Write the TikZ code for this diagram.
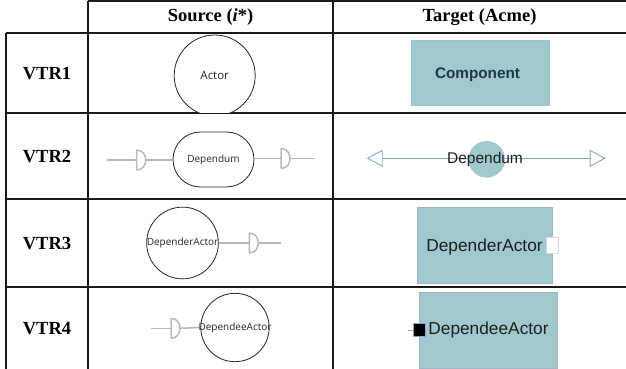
\documentclass[tikz,border=0pt]{standalone}
\usepackage{fontspec}
\setmainfont{Liberation Serif}
\newfontfamily\arialf{Liberation Sans}
\newfontfamily\segoef{Open Sans}
\usetikzlibrary{arrows.meta,backgrounds}
\definecolor{gridc}{HTML}{1A1A1A}
\definecolor{ifcc}{HTML}{B8B8B8}
\definecolor{acmefill}{HTML}{9FC8CF}
\definecolor{acmeedge}{HTML}{A3B5C6}
\definecolor{linkc}{HTML}{8FA3C3}
\definecolor{comptext}{HTML}{1E3A4A}
\begin{document}
\begin{tikzpicture}[x=1pt,y=-1pt,
  tbl/.style={draw=gridc,line width=1.2pt},
  tblthick/.style={draw=gridc,line width=1.7pt},
  hdr/.style={font=\fontsize{18.5}{20}\selectfont\bfseries,inner sep=0pt},
  ifc/.style={draw=ifcc,line width=1.5pt},
  istar/.style={draw=black!85,line width=0.8pt,fill=white,inner sep=0pt,
    text=black!85,font=\segoef\fontsize{10}{12}\selectfont},
  acme/.style={draw=acmeedge,line width=0.8pt,fill=acmefill,inner sep=0pt},
  acmetext/.style={font=\arialf\fontsize{17.3}{20}\selectfont,text=black!88,inner sep=0pt},
  link/.style={draw=linkc,line width=0.9pt,-{Triangle[open,length=16pt,width=17pt]}},
  reqd/.pic={\draw[ifc] (0,-10) -- (0,10) (0,-10) .. controls (12,-10) and (12,10) .. (0,10);}
]
\useasboundingbox (0,0) rectangle (626,369);

% ---- table grid
\draw[tbl] (88,1) -- (626,1);
\draw[tbl] (88,1) -- (88,369);
\draw[tbl] (333,1) -- (333,369);
\draw[tbl] (6,33) -- (6,369);
\draw[tblthick] (6,33) -- (626,33);
\draw[tbl] (6,113) -- (626,113);
\draw[tbl] (6,199) -- (626,199);
\draw[tbl] (6,287) -- (626,287);

% ---- headers
\node[hdr] (hsrc) at (210.5,17.5) {Source (\textit{i}*)};
\node[hdr] (htgt) at (479.5,17.5) {Target (Acme)};
\node[hdr] (vtr1) at (47,74) {VTR1};
\node[hdr] (vtr2) at (47,157) {VTR2};
\node[hdr] (vtr3) at (47,244) {VTR3};
\node[hdr] (vtr4) at (47,329) {VTR4};

% ---- VTR1
\begin{scope}
\clip (89,34) rectangle (332,112.4);
\node[istar,circle,minimum size=81pt,font=\segoef\fontsize{11.5}{13}\selectfont] (actor) at (214.7,75.5) {Actor};
\end{scope}
\node[acme,draw=acmefill!90!gray,minimum width=137.6pt,minimum height=65pt] (comp) at (480.5,73.2) {};
\node[font=\arialf\bfseries\fontsize{15.3}{18}\selectfont,text=comptext,inner sep=0pt] (complbl) at (477.5,75) {Component};

% ---- VTR2 source
\node[istar,rounded corners=27.5pt,minimum width=81pt,minimum height=55pt] (dep) at (213.5,159.5) {Dependum};
\coordinate (s2a) at (106.7,160);
\coordinate (d2l) at (136.7,160);
\coordinate (d2lb) at (146,160);
\pic at (d2l) {reqd};
\draw[ifc] (s2a) -- (d2l);
\draw[ifc] (d2lb) -- (d2lb -| dep.west);
\coordinate (d2r) at (281,158.5);
\coordinate (d2rb) at (290,158.5);
\coordinate (s2b) at (315,158.5);
\pic at (d2r) {reqd};
\draw[ifc] (d2r -| dep.east) -- (d2r);
\draw[ifc] (d2rb) -- (s2b);

% ---- VTR2 target
\coordinate (a2l) at (366.7,158.3);
\coordinate (a2r) at (605.7,158.3);
\node[circle,minimum size=36pt,inner sep=0pt] (depc0) at (486.7,158.3) {};
\draw[link] (depc0.center) -- (a2l);
\draw[link] (depc0.center) -- (a2r);
\node[circle,minimum size=36pt,inner sep=0pt,fill=acmefill,draw=acmefill!75!black!60,
  dash pattern=on 2pt off 1pt,line width=0.6pt] (depc) at (486.7,159.3) {};
\node[acmetext,font=\arialf\fontsize{15.5}{18}\selectfont] (deplbl) at (485,159) {Dependum};

% ---- VTR3 source
\node[istar,circle,minimum size=71.7pt] (dra) at (182.5,243) {};
\node[istar,draw=none,fill=none] (dralbl) at (182.5,243) {DependerActor};
\coordinate (d3) at (249.3,243);
\coordinate (d3b) at (258.3,243);
\coordinate (s3b) at (281,243);
\pic at (d3) {reqd};
\draw[ifc] (dra.east) -- (d3);
\draw[ifc] (d3b) -- (s3b);

% ---- VTR3 target
\node[acme,minimum width=134.6pt,minimum height=76pt] (drt) at (485,245.3) {};
\node[acmetext] (drtlbl) at (484.5,246.7) {DependerActor};
\node[fill=white,draw=acmeedge!50,line width=0.5pt,minimum width=12.3pt,minimum height=15.6pt,inner sep=0pt] (drport) at (551.9,245.5) {};

% ---- VTR4 source
\node[istar,circle,minimum size=68.4pt] (dea) at (235,327.5) {};
\node[istar,draw=none,fill=none] (dealbl) at (235,327.5) {DependeeActor};
\coordinate (s4a) at (151,328.3);
\coordinate (d4) at (171,328.3);
\coordinate (d4b) at (180,328.3);
\pic at (d4) {reqd};
\draw[ifc] (s4a) -- (d4);
\begin{scope}[on background layer]
\draw[ifc] (d4b) -- (dea.west);
\end{scope}

% ---- VTR4 target
\node[acme,minimum width=138.7pt,minimum height=76pt] (det) at (488.35,330.7) {};
\node[acmetext] (detlbl) at (488.5,330) {DependeeActor};
\node[fill=black,draw=linkc,line width=0.7pt,minimum width=12.4pt,minimum height=13.4pt,inner sep=0pt] (deport) at (419.5,330) {};
\coordinate (tick) at (408,330);
\draw[draw=linkc,line width=0.7pt] (tick) -- (deport.west);
\end{tikzpicture}
\end{document}
